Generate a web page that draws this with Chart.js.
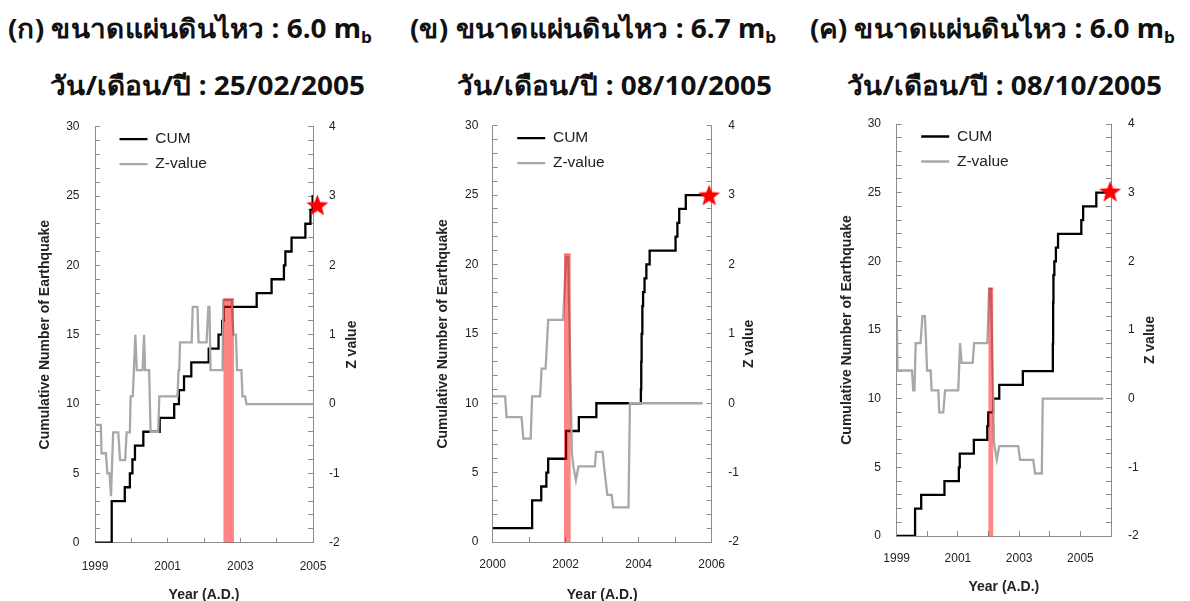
<!DOCTYPE html>
<html lang="th">
<head>
<meta charset="utf-8">
<title>CUM / Z-value</title>
<script src="https://cdn.jsdelivr.net/npm/chart.js@4.4.1/dist/chart.umd.min.js"></script>
<style>
  html, body { margin: 0; padding: 0; background: #fff; }
  body { width: 1190px; height: 601px; position: relative; overflow: hidden; }
  .ttl { position: absolute; white-space: nowrap; font-family: Tahoma, "Noto Sans", "DejaVu Sans", sans-serif;
         font-size: 26px; font-weight: bold; line-height: 1; color: #111;
         transform: scaleX(1.075); transform-origin: left top; }
  .ttl sub { font-size: 0.62em; vertical-align: -0.3em; }
  canvas { position: absolute; top: 110px; }
</style>
</head>
<body>
<div class="ttl" style="left:8px;top:15px">(ก) ขนาดแผ่นดินไหว : 6.0 m<sub>b</sub></div>
<div class="ttl" style="left:50px;top:72px">วัน/เดือน/ปี : 25/02/2005</div>
<div class="ttl" style="left:410px;top:15px">(ข) ขนาดแผ่นดินไหว : 6.7 m<sub>b</sub></div>
<div class="ttl" style="left:457px;top:72px">วัน/เดือน/ปี : 08/10/2005</div>
<div class="ttl" style="left:810px;top:15px">(ค) ขนาดแผ่นดินไหว : 6.0 m<sub>b</sub></div>
<div class="ttl" style="left:847px;top:72px">วัน/เดือน/ปี : 08/10/2005</div>

<canvas id="chartA" width="400" height="495" style="left:0px"></canvas>
<canvas id="chartB" width="400" height="495" style="left:400px"></canvas>
<canvas id="chartC" width="390" height="495" style="left:800px"></canvas>

<script>
// ---- panel (ก) ----
const cumYearsA = [1999, 1999.46, 1999.82, 1999.96, 2000.03, 2000.10, 2000.33, 2000.78, 2001.18, 2001.31,
  2001.45, 2001.65, 2002.13, 2002.40, 2002.50, 2002.54, 2003.45, 2003.86, 2004.20, 2004.24, 2004.41,
  2004.79, 2004.93, 2004.99, 2005.00];
const cumCountA = [0, 3, 4, 5, 6, 7, 8, 9, 10, 11, 12, 13, 14, 15, 16, 17, 18, 19, 20, 21, 22, 23, 24, 25, 25];
const zYearsA = [1999.00, 1999.16, 1999.18, 1999.30, 1999.34, 1999.40, 1999.44, 1999.50, 1999.64, 1999.69,
  1999.83, 1999.87, 1999.96, 1999.98, 2000.04, 2000.07, 2000.11, 2000.15, 2000.31, 2000.35, 2000.38,
  2000.49, 2000.53, 2000.74, 2000.77, 2001.27, 2001.30, 2001.32, 2001.34, 2001.66, 2001.69, 2001.82,
  2001.85, 2002.07, 2002.12, 2002.15, 2002.18, 2002.51, 2002.53, 2002.76, 2002.81, 2002.88, 2002.91,
  2003.03, 2003.06, 2003.13, 2003.17, 2005.00];
const zValueA = [-0.30, -0.30, -0.71, -0.71, -1.00, -1.00, -1.33, -0.41, -0.41, -0.81,
  -0.81, -0.41, -0.41, 0.11, 0.11, 0.49, 1.00, 0.49, 0.49, 1.00, 0.49,
  0.49, -0.40, -0.40, 0.11, 0.11, 0.49, 0.49, 0.89, 0.89, 1.40, 1.40,
  0.89, 0.89, 1.40, 1.40, 0.49, 0.49, 1.50, 1.50, 1.00, 1.00, 0.49,
  0.49, 0.11, 0.11, 0.00, 0.00];
const alarmA = [2002.53, 2002.83];
const alarmTopA = 1.52;
const shockA = [2005.12, 24.35];

// ---- panel (ข) ----
const cumYearsB = [2000, 2001.08, 2001.33, 2001.47, 2001.52, 2002.01, 2002.36, 2002.84, 2004.06, 2004.07,
  2004.08, 2004.10, 2004.12, 2004.16, 2004.21, 2004.30, 2005.01, 2005.06, 2005.11, 2005.29, 2005.85];
const cumCountB = [1, 3, 4, 5, 6, 8, 9, 10, 11, 13, 15, 17, 18, 19, 20, 21, 22, 23, 24, 25, 25];
const zYearsB = [2000.00, 2000.34, 2000.38, 2000.79, 2000.84, 2001.04, 2001.08, 2001.30, 2001.34, 2001.45,
  2001.52, 2001.93, 2002.01, 2002.07, 2002.17, 2002.21, 2002.28, 2002.35, 2002.80, 2002.83, 2003.01,
  2003.05, 2003.14, 2003.26, 2003.30, 2003.72, 2003.76, 2005.75];
const zValueB = [0.10, 0.10, -0.20, -0.20, -0.51, -0.51, 0.10, 0.10, 0.50, 0.50,
  1.20, 1.20, 2.11, 2.11, -0.72, -0.91, -1.11, -0.91, -0.91, -0.70, -0.70,
  -0.91, -1.32, -1.32, -1.50, -1.50, 0.00, 0.00];
const alarmB = [2001.95, 2002.14];
const alarmTopB = 2.15;
const shockB = [2005.93, 25.0];

// ---- panel (ค) ----
const cumYearsC = [1999, 1999.60, 1999.80, 2000.56, 2001.03, 2001.06, 2001.52, 2001.96, 2001.99, 2002.15,
  2002.35, 2003.12, 2004.10, 2004.11, 2004.12, 2004.15, 2004.20, 2004.27, 2005.03, 2005.09, 2005.52, 2005.85];
const cumCountC = [0, 2, 3, 4, 5, 6, 7, 8, 9, 10, 11, 12, 14, 17, 19, 20, 21, 22, 23, 24, 25, 25];
const zYearsC = [1999.00, 1999.03, 1999.50, 1999.54, 1999.58, 1999.62, 1999.78, 1999.84, 1999.92, 1999.96,
  1999.99, 2000.11, 2000.14, 2000.36, 2000.39, 2000.52, 2000.58, 2001.01, 2001.07, 2001.12, 2001.48,
  2001.53, 2001.96, 2002.02, 2002.08, 2002.18, 2002.27, 2002.35, 2002.97, 2003.03, 2003.46, 2003.52,
  2003.74, 2003.77, 2005.75];
const zValueC = [1.22, 0.41, 0.41, 0.12, 0.12, 0.81, 0.81, 1.20, 1.20, 0.81,
  0.41, 0.41, 0.12, 0.12, -0.20, -0.20, 0.12, 0.12, 0.81, 0.52, 0.52,
  0.81, 0.81, 1.60, 1.60, -0.65, -0.89, -0.69, -0.69, -0.89, -0.89, -1.09,
  -1.09, 0.00, 0.00];
const alarmC = [2001.99, 2002.16];
const alarmTopC = 1.61;
const shockC = [2005.97, 25.1];

const seriesNames = ['CUM', 'Z-value'];

Chart.defaults.font.family = "'Liberation Sans', Arial, sans-serif";
Chart.defaults.color = '#222';

const AXIS_GRAY = '#8c8c8c';

function starImage(size, color) {
  const c = document.createElement('canvas');
  c.width = size; c.height = size;
  const g = c.getContext('2d');
  const R = size / 2, r = R * 0.42;
  g.beginPath();
  for (let i = 0; i < 10; i++) {
    const a = -Math.PI / 2 + i * Math.PI / 5;
    const rad = i % 2 ? r : R;
    g.lineTo(R + rad * Math.cos(a), R + 1 + rad * Math.sin(a));
  }
  g.closePath();
  g.fillStyle = color;
  g.fill();
  return c;
}
const star = starImage(23, '#ff0000');

// move the legend to where it sits in the original
const legendShift = {
  id: 'legendShift',
  afterLayout(chart, args, opts) {
    const lg = chart.legend, ca = chart.chartArea;
    if (!lg) return;
    lg.left = ca.left + opts.dx;
    lg.top = ca.top + opts.dy;
    lg.right = ca.right;
    lg.bottom = ca.bottom;
  }
};

// right axis title reads bottom-to-top like the left one
const zTitle = {
  id: 'zTitle',
  afterDraw(chart, args, opts) {
    const s = chart.scales.z, ca = chart.chartArea;
    const ctx = chart.ctx;
    ctx.save();
    ctx.translate(s.left + opts.dx, (ca.top + ca.bottom) / 2 + opts.dy);
    ctx.rotate(-Math.PI / 2);
    ctx.font = 'bold 14px "Liberation Sans", Arial, sans-serif';
    ctx.fillStyle = '#222';
    ctx.textAlign = 'center';
    ctx.textBaseline = 'middle';
    ctx.fillText(opts.text, 0, 0);
    ctx.restore();
  }
};

function pts(xs, ys) {
  return xs.map((x, i) => ({ x: x, y: ys[i] }));
}

function drawPanel(id, p) {
  const ctx = document.getElementById(id).getContext('2d');
  // fixed axis sizes so the plot box lands where the original has it
  const fixVertical = (w) => (s) => { s.width = w; s.paddingTop = 0; s.paddingBottom = 0; };
  return new Chart(ctx, {
    type: 'line',
    data: {
      datasets: [
        {
          label: seriesNames[0],
          data: pts(p.cumYears, p.cumCount),
          yAxisID: 'y',
          borderColor: '#000',
          backgroundColor: '#000',
          borderWidth: 2.3,
          stepped: true,
          pointRadius: 0,
          fill: false,
          order: 3
        },
        {
          label: seriesNames[1],
          data: pts(p.zYears, p.zValue),
          yAxisID: 'z',
          borderColor: '#a8a8a8',
          backgroundColor: '#a8a8a8',
          borderWidth: 2.3,
          pointRadius: 0,
          tension: 0,
          fill: false,
          order: 2
        },
        {
          label: 'alarm',
          data: pts(p.alarm, [p.alarmTop, p.alarmTop]),
          yAxisID: 'z',
          borderColor: 'rgba(210,0,0,0.35)',
          borderWidth: 1.5,
          backgroundColor: 'rgba(255,0,0,0.48)',
          pointRadius: 0,
          fill: 'start',
          order: 1
        },
        {
          label: 'shock',
          data: [{ x: p.shock[0], y: p.shock[1] }],
          yAxisID: 'y',
          showLine: false,
          pointStyle: star,
          pointRadius: 11,
          clip: false,
          order: 0
        }
      ]
    },
    options: {
      responsive: false,
      animation: false,
      events: [],
      layout: { padding: { top: p.padTop, left: 0, right: 0, bottom: 0 } },
      scales: {
        x: {
          type: 'linear',
          position: 'bottom',
          min: p.xMin,
          max: p.xMax,
          afterFit: (s) => { s.height = p.xH; s.paddingLeft = 0; s.paddingRight = 0; },
          ticks: {
            stepSize: 1,
            autoSkip: false,
            maxRotation: 0,
            padding: p.xPad,
            font: { size: 12 },
            callback: (v) => ((v - p.xMin) % 2 === 0 ? String(v) : '')
          },
          grid: { drawOnChartArea: false, tickLength: -5, color: AXIS_GRAY },
          border: { color: AXIS_GRAY },
          title: {
            display: true,
            text: 'Year (A.D.)',
            font: { size: 14, weight: 'bold' },
            padding: { top: 0, bottom: p.xTitlePad }
          }
        },
        y: {
          position: 'left',
          min: 0,
          max: 30,
          afterFit: fixVertical(p.yW),
          ticks: {
            stepSize: 1,
            autoSkip: false,
            padding: p.yPad,
            font: { size: 12 },
            callback: (v) => (v % 5 === 0 ? String(v) : '')
          },
          grid: { drawOnChartArea: false, tickLength: -5, color: AXIS_GRAY },
          border: { color: AXIS_GRAY },
          title: {
            display: true,
            text: 'Cumulative Number of Earthquake',
            font: { size: 14, weight: 'bold' },
            padding: { top: p.yTitlePad, bottom: 0 }
          }
        },
        z: {
          position: 'right',
          min: -2,
          max: 4,
          afterFit: fixVertical(p.zW),
          ticks: {
            stepSize: 0.2,
            autoSkip: false,
            padding: p.zPad,
            font: { size: 12 },
            callback: (v) => (Math.abs(v - Math.round(v)) < 1e-6 ? String(Math.round(v)) : '')
          },
          grid: { drawOnChartArea: false, tickLength: -5, color: AXIS_GRAY },
          border: { color: AXIS_GRAY }
        }
      },
      plugins: {
        tooltip: { enabled: false },
        legend: {
          position: 'chartArea',
          align: 'start',
          labels: {
            usePointStyle: true,
            pointStyle: 'line',
            pointStyleWidth: 28,
            padding: 9.5,
            color: '#222',
            font: { size: 15.5 },
            filter: (item) => item.datasetIndex < 2,
            sort: (a, b) => a.datasetIndex - b.datasetIndex
          }
        },
        legendShift: { dx: 15, dy: -4.75 },
        zTitle: { text: 'Z value', dx: p.zTitleX, dy: 10 }
      }
    },
    plugins: [legendShift, zTitle]
  });
}

drawPanel('chartA', {
  cumYears: cumYearsA, cumCount: cumCountA, zYears: zYearsA, zValue: zValueA,
  alarm: alarmA, alarmTop: alarmTopA, shock: shockA,
  xMin: 1999, xMax: 2005,
  padTop: 16.7, xH: 62.3, yW: 95, zW: 87,
  xPad: 21.8, yPad: 20.5, zPad: 21, xTitlePad: 1.6, yTitlePad: 36.6, zTitleX: 39.5
});

drawPanel('chartB', {
  cumYears: cumYearsB, cumCount: cumCountB, zYears: zYearsB, zValue: zValueB,
  alarm: alarmB, alarmTop: alarmTopB, shock: shockB,
  xMin: 2000, xMax: 2006,
  padTop: 15.7, xH: 63, yW: 92.7, zW: 88.3,
  xPad: 20.8, yPad: 19.4, zPad: 21.5, xTitlePad: 1.6, yTitlePad: 34.6, zTitleX: 37.3
});

drawPanel('chartC', {
  cumYears: cumYearsC, cumCount: cumCountC, zYears: zYearsC, zValue: zValueC,
  alarm: alarmC, alarmTop: alarmTopC, shock: shockC,
  xMin: 1999, xMax: 2006,
  padTop: 14, xH: 69, yW: 96.7, zW: 79,
  xPad: 20.1, yPad: 20.7, zPad: 22, xTitlePad: 9.9, yTitlePad: 38.6, zTitleX: 39
});
</script>
</body>
</html>
